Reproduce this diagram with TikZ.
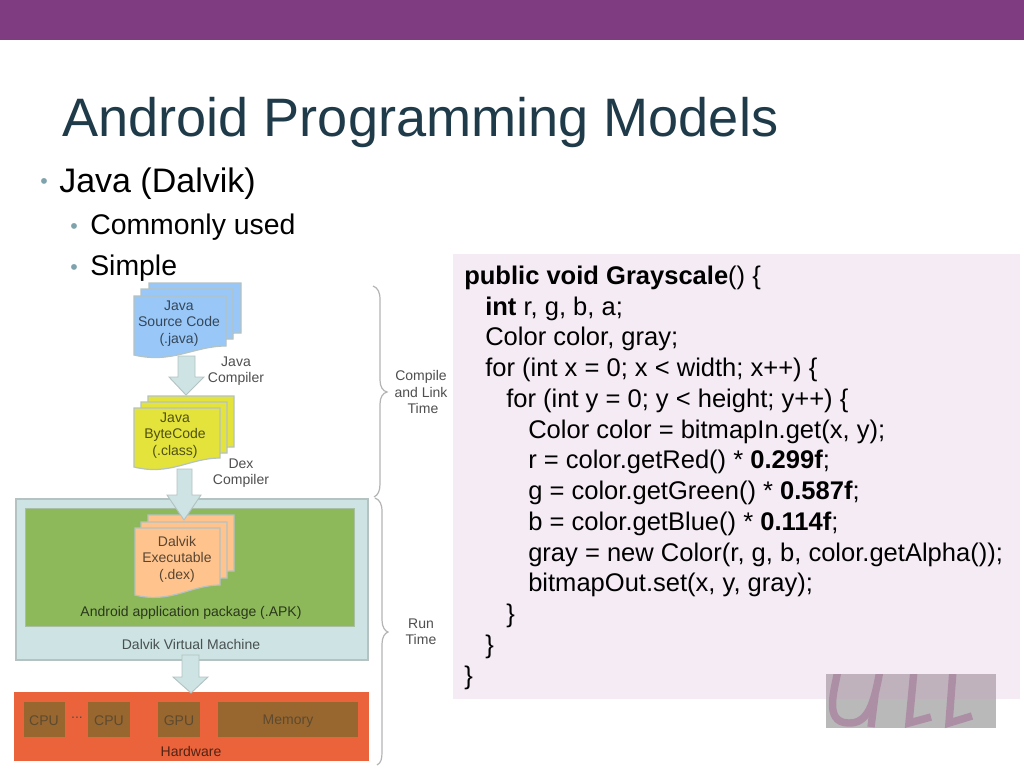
\documentclass[tikz,border=0pt]{standalone}
\usepackage{fontspec}
\setmainfont{Liberation Sans}
\definecolor{band}{HTML}{7F3C80}
\definecolor{titlec}{HTML}{1F3B4A}
\definecolor{bul}{HTML}{7FA3AC}
\definecolor{codebg}{HTML}{F5EBF4}
\definecolor{dvm}{HTML}{CEE3E3}
\definecolor{edgec}{HTML}{B4C2C2}
\definecolor{apk}{HTML}{8DB95B}
\definecolor{hw}{HTML}{EB633A}
\definecolor{chip}{HTML}{97672F}
\definecolor{chiptext}{HTML}{5E4A30}
\definecolor{blued}{HTML}{99C8F8}
\definecolor{yeld}{HTML}{E3E33C}
\definecolor{orad}{HTML}{FFC48E}
\definecolor{brc}{HTML}{B4B4B4}
\definecolor{lab}{HTML}{4F4F4F}
\definecolor{logoa}{HTML}{C0B2BC}
\definecolor{logoc}{HTML}{B9B9B9}
\definecolor{logob}{HTML}{AD8FA5}
\newcommand{\docsheet}[7]{% x1 x2 ytop yleft yright fill edge
  \filldraw[fill=#6,draw=#7,line width=0.9pt]
    (#1,#3) -- (#2,#3) -- (#2,#5)
    .. controls ({#2-0.35*(#2-#1)},{#5}) and ({#1+0.42*(#2-#1)},{#4+9}) .. (#1,#4) -- cycle;}
\tikzset{
  x=0.75pt,y=-0.75pt,
  difflabel/.style={text=lab,font=\fontsize{10.5pt}{12.3pt}\selectfont,align=center,inner sep=0pt},
  codeline/.style={anchor=base west,inner sep=0pt,text=black,font=\fontsize{19.15pt}{22pt}\selectfont},
  blockarrow/.style={fill=dvm,draw=edgec,line width=0.7pt,line join=miter},
  chipbox/.style={fill=chip,draw=none},
  bracepath/.style={draw=brc,line width=0.9pt},
  bulletmark/.style={text=bul,inner sep=0pt,font=\fontsize{16pt}{16pt}\selectfont},
}
\begin{document}
\begin{tikzpicture}
\useasboundingbox (0,0) rectangle (1024,768);
\fill[white] (0,0) rectangle (1024,768);
\fill[band] (0,0) rectangle (1024,40);
\node[anchor=base west,inner sep=0pt,text=titlec,font=\fontsize{40.6pt}{44pt}\selectfont] (title) at (62,136) {Android Programming Models};
% bullets
\node[bulletmark] (b1) at (44,184) {•};
\node[anchor=base west,inner sep=0pt,font=\fontsize{25.5pt}{28pt}\selectfont] (t1) at (59,192) {Java (Dalvik)};
\node[bulletmark] (b2) at (74,228.5) {•};
\node[anchor=base west,inner sep=0pt,font=\fontsize{21.3pt}{24pt}\selectfont] (t2) at (90,234) {Commonly used};
\node[bulletmark] (b3) at (74,269.5) {•};
\node[anchor=base west,inner sep=0pt,font=\fontsize{21.3pt}{24pt}\selectfont] (t3) at (90,275) {Simple};
% code panel
\fill[codebg] (453,254) rectangle (1020,699);
\node[codeline] (c1) at (464,284) {\textbf{public void Grayscale}() \{};
\node[codeline] (c2) at (485,315) {\textbf{int} r, g, b, a;};
\node[codeline] (c3) at (485,345.5) {Color color, gray;};
\node[codeline] (c4) at (485,376) {for (int x = 0; x < width; x++) \{};
\node[codeline] (c5) at (506,407) {for (int y = 0; y < height; y++) \{};
\node[codeline] (c6) at (528,438) {Color color = bitmapIn.get(x, y);};
\node[codeline] (c7) at (528,468) {r = color.getRed() * \textbf{0.299f};};
\node[codeline] (c8) at (528,499) {g = color.getGreen() * \textbf{0.587f};};
\node[codeline] (c9) at (528,530) {b = color.getBlue() * \textbf{0.114f};};
\node[codeline] (c10) at (528,561) {gray = new Color(r, g, b, color.getAlpha());};
\node[codeline] (c11) at (528,591) {bitmapOut.set(x, y, gray);};
\node[codeline] (c12) at (506,622) {\}};
\node[codeline] (c13) at (485,653) {\}};
\node[codeline] (c14) at (464,684) {\}};
% logo
\fill[logoa] (826,674) rectangle (996,699);
\fill[logoc] (826,699) rectangle (996,728);
\begin{scope}
\clip (826,674) rectangle (996,728);
\draw[logob,line width=5.6pt] (838,670) .. controls (834,692) and (824,722) .. (848,723) .. controls (868,724) and (874,704) .. (880,670);
\draw[logob,line width=5.6pt] (875,695) -- (871,727);
\draw[logob,line width=5.6pt] (914,670) -- (909,723) -- (931,717);
\draw[logob,line width=5.6pt] (953,670) -- (949,723) -- (972,716);
\end{scope}
% VM and hardware
\filldraw[fill=dvm,draw=edgec,line width=0.9pt] (16,499) rectangle (368,660);
\filldraw[fill=apk,draw=edgec!70!apk,line width=0.7pt] (25,508) rectangle (354,626);
\node[difflabel,text=black!70!apk] (apklabel) at (191,613) {Android application package (.APK)};
\node[difflabel,text=black!65!dvm] (vmlabel) at (191,644) {Dalvik Virtual Machine};
\fill[hw] (14,692) rectangle (369,761);
\fill[chipbox] (24,702) rectangle (65,737);
\fill[chipbox] (88,702) rectangle (130,737);
\fill[chipbox] (158,702) rectangle (200,737);
\fill[chipbox] (218,702) rectangle (358,737);
\node[difflabel,text=chiptext] (cpu1) at (44,721) {CPU};
\node[difflabel,text=chiptext] (cpu2) at (109,721) {CPU};
\node[difflabel,text=chiptext] (gpu) at (179,721) {GPU};
\node[difflabel,text=chiptext] (mem) at (288,721) {Memory};
\node[difflabel,text=lab] (dots) at (77,718) {...};
\node[difflabel,text=black!65!hw] (hwlabel) at (191,751) {Hardware};
% blue documents
\docsheet{149}{241}{283}{333}{333}{blued}{edgec}
\docsheet{141}{233}{289}{339}{339}{blued}{edgec}
\docsheet{134}{226}{296}{355}{346}{blued}{edgec}
\node[difflabel,text=black!65!blued] (srcdoc) at (179,323.5) {Java\\Source Code\\(.java)};
% yellow documents
\docsheet{148}{234}{396}{447}{447}{yeld}{edgec}
\docsheet{141}{227}{402}{453}{453}{yeld}{edgec}
\docsheet{134}{220}{408}{467}{458}{yeld}{edgec}
\node[difflabel,text=black!65!yeld] (bytedoc) at (175,435.5) {Java\\ByteCode\\(.class)};
% orange documents
\docsheet{148}{234}{515}{571}{571}{orad}{edgec}
\docsheet{141}{227}{522}{578}{578}{orad}{edgec}
\docsheet{135}{220}{528}{595}{585}{orad}{edgec}
\node[difflabel,text=black!65!orad] (dexdoc) at (177,559) {Dalvik\\Executable\\(.dex)};
% block arrows
\draw[blockarrow] (178,356) -- (195,356) -- (195,377) -- (204,377) -- (186,395) -- (169,377) -- (178,377) -- cycle;
\draw[blockarrow] (177,469) -- (192,469) -- (192,495) -- (201,495) -- (184,520) -- (167,495) -- (177,495) -- cycle;
\draw[blockarrow] (182,655) -- (199,655) -- (199,677) -- (208,677) -- (191,693) -- (173,677) -- (182,677) -- cycle;
% compiler labels
\node[difflabel] (jc) at (236,371) {Java\\Compiler};
\node[difflabel] (dc) at (241,473) {Dex\\Compiler};
% braces
\draw[bracepath] (373,286) .. controls (378,288) and (380,292) .. (380,300) -- (380,380) .. controls (380,387) and (383,391) .. (387,392) .. controls (383,393) and (380,397) .. (380,404) -- (380,484) .. controls (380,491) and (378,495) .. (374,497);
\draw[bracepath] (375,498) .. controls (380,500) and (382,504) .. (382,512) -- (382,620) .. controls (382,627) and (385,631) .. (388,632) .. controls (385,633) and (382,637) .. (382,644) -- (382,752) .. controls (382,759) and (381,763) .. (377,765);
\node[difflabel] (clt) at (421,392) {Compile\\and Link\\\hspace*{3pt}Time};
\node[difflabel] (rt) at (421,631.5) {Run\\Time};
\end{tikzpicture}
\end{document}
